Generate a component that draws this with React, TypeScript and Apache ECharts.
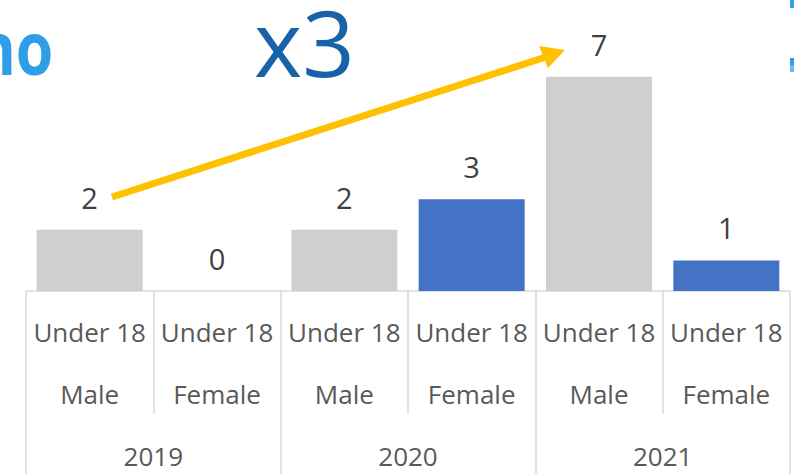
import React, { useEffect, useRef } from "react";
import * as echarts from "echarts";

const categories = [
  "Under 18\nMale",
  "Under 18\nFemale",
  "Under 18\nMale",
  "Under 18\nFemale",
  "Under 18\nMale",
  "Under 18\nFemale",
];
const years = ["2019", "2020", "2021"];
const values = [2, 0, 2, 3, 7, 1];
const genders = ["Male", "Female", "Male", "Female", "Male", "Female"];

const MALE_COLOR = "#D0CECE";
const FEMALE_COLOR = "#4472C4";
const LINE_COLOR = "#D9D9D9";
const FONT = "'Open Sans', 'Noto Sans', sans-serif";

export default function App() {
  const ref = useRef<HTMLDivElement>(null);
  useEffect(() => {
    if (!ref.current) return;
    const chart = echarts.init(ref.current, null, { renderer: "svg" });
    chart.setOption({
      animation: false,
      grid: { left: 26, right: 4, top: 15.6, bottom: 183 },
      xAxis: [
        {
          type: "category",
          data: categories,
          position: "bottom",
          axisLine: { show: true, lineStyle: { color: LINE_COLOR, width: 1.5 } },
          axisTick: { show: true, length: 123, lineStyle: { color: LINE_COLOR, width: 1.5 } },
          axisLabel: {
            interval: 0,
            margin: 10,
            color: "#595959",
            fontSize: 26,
            lineHeight: 62,
            fontFamily: FONT,
          },
        },
        {
          type: "category",
          data: years,
          position: "bottom",
          offset: 123,
          axisLine: { show: false },
          axisTick: { show: true, length: 60, lineStyle: { color: LINE_COLOR, width: 1.5 } },
          axisLabel: {
            interval: 0,
            margin: 29,
            color: "#595959",
            fontSize: 26,
            fontFamily: FONT,
          },
        },
      ],
      yAxis: {
        type: "value",
        min: 0,
        max: 9,
        show: false,
        splitLine: { show: false },
      },
      series: [
        {
          type: "bar",
          xAxisIndex: 0,
          barWidth: 106,
          data: values.map((v, i) => ({
            value: v,
            itemStyle: { color: genders[i] === "Male" ? MALE_COLOR : FEMALE_COLOR },
          })),
          label: {
            show: true,
            position: "top",
            distance: 18,
            color: "#404040",
            fontSize: 29,
            fontFamily: FONT,
          },
        },
      ],
      graphic: [
        {
          type: "text",
          x: -24,
          y: 10,
          style: {
            text: "no",
            fill: "#2E9FE6",
            font: "bold 74px 'Open Sans', sans-serif",
          },
          scaleX: 0.82,
        },
        {
          type: "text",
          x: 254,
          y: 1,
          style: {
            text: "x3",
            fill: "#1863A8",
            font: "92px 'Open Sans', sans-serif",
            lineHeight: 80,
          },
        },
        { type: "rect", shape: { x: 790, y: 0, width: 4, height: 8 }, style: { fill: "#2E9FE6" } },
        { type: "rect", shape: { x: 790, y: 58, width: 4, height: 7 }, style: { fill: "#2E9FE6" } },
        { type: "rect", shape: { x: 790, y: 65, width: 4, height: 7 }, style: { fill: "#6BB8EC" } },
        {
          type: "line",
          shape: { x1: 112, y1: 197, x2: 546, y2: 57 },
          style: { stroke: "#FFC000", lineWidth: 7 },
        },
        {
          type: "polygon",
          shape: { points: [[565, 50], [539, 46], [548, 68]] },
          style: { fill: "#FFC000" },
        },
      ],
    });
    return () => chart.dispose();
  }, []);
  return (
    <div
      ref={ref}
      style={{ position: "absolute", left: 0, top: 0, width: 794, height: 474 }}
    />
  );
}
